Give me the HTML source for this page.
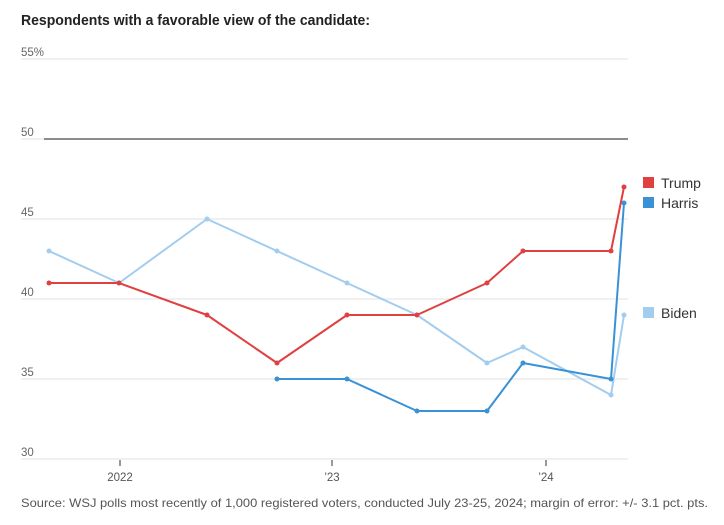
<!DOCTYPE html>
<html><head><meta charset="utf-8"><style>
body{margin:0;background:#fff;}
svg{display:block;font-family:"Liberation Sans",sans-serif;}
</style></head><body>
<svg width="724" height="525" viewBox="0 0 724 525">
<text x="21" y="25" font-size="14.5" font-weight="bold" fill="#222" textLength="349" lengthAdjust="spacingAndGlyphs">Respondents with a favorable view of the candidate:</text>
<g stroke="#ececec" stroke-width="1.5">
<line x1="21" y1="59" x2="628" y2="59"/>
<line x1="21" y1="139" x2="628" y2="139"/>
<line x1="21" y1="219" x2="628" y2="219"/>
<line x1="21" y1="299" x2="628" y2="299"/>
<line x1="21" y1="379" x2="628" y2="379"/>
<line x1="21" y1="459" x2="628" y2="459"/>
</g>
<line x1="44" y1="139" x2="628" y2="139" stroke="#222" stroke-width="1"/>
<g font-size="11.5" fill="#666">
<text x="21" y="56">55%</text>
<text x="21" y="136">50</text>
<text x="21" y="216">45</text>
<text x="21" y="296">40</text>
<text x="21" y="376">35</text>
<text x="21" y="456">30</text>
</g>
<g stroke="#333" stroke-width="1">
<line x1="120" y1="460" x2="120" y2="466"/>
<line x1="332" y1="460" x2="332" y2="466"/>
<line x1="546" y1="460" x2="546" y2="466"/>
</g>
<g font-size="11.5" fill="#555" text-anchor="middle">
<text x="120" y="481">2022</text>
<text x="332" y="481">’23</text>
<text x="546" y="481">’24</text>
</g>
<text x="21" y="507" font-size="12" fill="#555" textLength="687" lengthAdjust="spacingAndGlyphs">Source: WSJ polls most recently of 1,000 registered voters, conducted July 23-25, 2024; margin of error: +/- 3.1 pct. pts.</text>
<g fill="none" stroke-width="2" stroke-linejoin="round">
<polyline stroke="#a3cdef" points="49,251 119,283 207,219 277,251 347,283 417,315 487,363 523,347 611,395 624,315"/>
<polyline stroke="#3a92d6" points="277,379 347,379 417,411 487,411 523,363 611,379 624,203"/>
<polyline stroke="#e0403f" points="49,283 119,283 207,315 277,363 347,315 417,315 487,283 523,251 611,251 624,187"/>
</g>
<g fill="#a3cdef"><circle cx="49" cy="251" r="2.5"/><circle cx="119" cy="283" r="2.5"/><circle cx="207" cy="219" r="2.5"/><circle cx="277" cy="251" r="2.5"/><circle cx="347" cy="283" r="2.5"/><circle cx="417" cy="315" r="2.5"/><circle cx="487" cy="363" r="2.5"/><circle cx="523" cy="347" r="2.5"/><circle cx="611" cy="395" r="2.5"/><circle cx="624" cy="315" r="2.5"/></g>
<g fill="#3a92d6"><circle cx="277" cy="379" r="2.5"/><circle cx="347" cy="379" r="2.5"/><circle cx="417" cy="411" r="2.5"/><circle cx="487" cy="411" r="2.5"/><circle cx="523" cy="363" r="2.5"/><circle cx="611" cy="379" r="2.5"/><circle cx="624" cy="203" r="2.5"/></g>
<g fill="#e0403f"><circle cx="49" cy="283" r="2.5"/><circle cx="119" cy="283" r="2.5"/><circle cx="207" cy="315" r="2.5"/><circle cx="277" cy="363" r="2.5"/><circle cx="347" cy="315" r="2.5"/><circle cx="417" cy="315" r="2.5"/><circle cx="487" cy="283" r="2.5"/><circle cx="523" cy="251" r="2.5"/><circle cx="611" cy="251" r="2.5"/><circle cx="624" cy="187" r="2.5"/></g>
<rect x="643" y="177" width="11" height="11" fill="#e0403f"/>
<text x="661" y="188" font-size="14" fill="#333">Trump</text>
<rect x="643" y="197" width="11" height="11" fill="#3a92d6"/>
<text x="661" y="208" font-size="14" fill="#333">Harris</text>
<rect x="643" y="307" width="11" height="11" fill="#a3cdef"/>
<text x="661" y="318" font-size="14" fill="#333">Biden</text>
</svg>
</body></html>
